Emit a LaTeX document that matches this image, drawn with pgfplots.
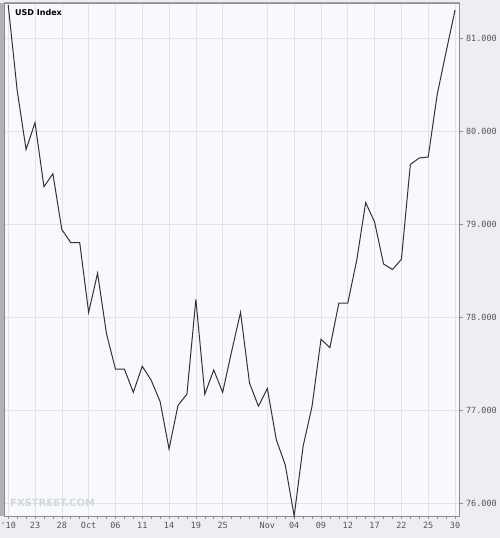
\documentclass[border=0pt]{standalone}
\usepackage{pgfplots}
\pgfplotsset{compat=1.18}
\usepackage{fontspec}
\setmainfont{DejaVu Sans}
\newfontfamily\labelfont{DejaVu Sans Mono}
\definecolor{outerbg}{HTML}{EDEEF2}
\definecolor{plotbg}{HTML}{F8F9FC}
\definecolor{gridc}{HTML}{E2E3E8}
\definecolor{axisc}{HTML}{8C8C90}
\definecolor{labelc}{HTML}{555555}
\definecolor{linec}{HTML}{333333}
\definecolor{markc}{HTML}{D3D7E1}

\begin{document}
\begin{tikzpicture}
% page = 500 x 538, plot area 455.5 x 513
\fill[outerbg] (-4pt,-22pt) rectangle (496pt,516pt);
\begin{axis}[
    at={(0pt,0pt)}, anchor=south west,
    scale only axis,
    width=455.5pt, height=513pt,
    xmin=-0.47, xmax=50.5,
    ymin=75.86, ymax=81.376,
    axis background/.style={fill=plotbg},
    axis line style={draw=axisc, line width=0.8pt},
    xtick pos=bottom, ytick pos=right,
    yticklabel pos=right,
    tick align=outside,
    major tick length=3pt, minor tick length=3pt,
    tick style={draw=axisc, line width=0.6pt},
    xtick={0,3,6,9,12,15,18,21,24,29,32,35,38,41,44,47,50},
    xticklabels={'10,23,28,Oct,06,11,14,19,25,Nov,04,09,12,17,22,25,30},
    minor xtick={0,...,50},
    ytick={76,77,78,79,80,81},
    yticklabel={\pgfmathprintnumber[fixed,fixed zerofill,precision=3,assume math mode=true]{\tick}},
    xmajorgrids, ymajorgrids,
    grid style={draw=gridc, line width=0.6pt},
    tick label style={font=\labelfont\fontsize{8.5}{9}\selectfont, text=labelc},
    clip=false,
]
\addplot[draw=linec, line width=1pt, mark=none] coordinates {
(0,81.355) (1,80.44) (2,79.80) (3,80.09) (4,79.40) (5,79.54)
(6,78.94) (7,78.80) (8,78.80) (9,78.05) (10,78.47) (11,77.82)
(12,77.44) (13,77.44) (14,77.19) (15,77.47) (16,77.32) (17,77.09)
(18,76.58) (19,77.05) (20,77.17) (21,78.19) (22,77.17) (23,77.43)
(24,77.19) (25,77.63) (26,78.05) (27,77.29) (28,77.04) (29,77.23)
(30,76.68) (31,76.41) (32,75.86) (33,76.61) (34,77.04) (35,77.76)
(36,77.67) (37,78.15) (38,78.15) (39,78.61) (40,79.23) (41,79.02)
(42,78.57) (43,78.51) (44,78.62) (45,79.64) (46,79.71) (47,79.72)
(48,80.39) (49,80.85) (50,81.30)
};
\end{axis}
% frame details: left grey bar and top border
\fill[gray!60] (-4pt,0pt) rectangle (0pt,513pt);
\draw[gray!70, line width=1pt] (0pt,513pt) -- (455.5pt,513pt);
% title and watermark
\node[anchor=north west, inner sep=0pt, font=\bfseries\fontsize{8}{9}\selectfont]
    at (11pt,507pt) {USD Index};
\node[anchor=west, inner sep=0pt, text=markc,
      font=\bfseries\fontsize{10}{11}\selectfont]
    at (6pt,13pt) {FXSTREET.COM};
\pgfresetboundingbox
\useasboundingbox (-4pt,-22pt) rectangle (496pt,516pt);
\end{tikzpicture}
\end{document}
